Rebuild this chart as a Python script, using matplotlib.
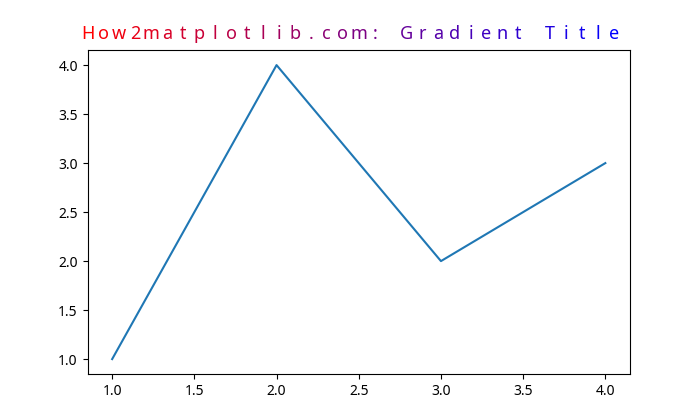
import matplotlib
matplotlib.use("Agg")
import matplotlib.pyplot as plt

plt.rcParams['font.family'] = ['Noto Sans', 'DejaVu Sans']

x = [1, 2, 3, 4]
y = [1, 4, 2, 3]
title = "How2matplotlib.com: Gradient Title"

fig, ax = plt.subplots(figsize=(7, 4.2), dpi=100)
ax.plot(x, y)

n = len(title)
for i, ch in enumerate(title):
    t = i / (n - 1)
    ax.text(i / n, 1.036, ch, transform=ax.transAxes, ha='center', va='baseline',
            fontsize=13, color=(1 - t, 0, t))

fig.savefig("out.png")
